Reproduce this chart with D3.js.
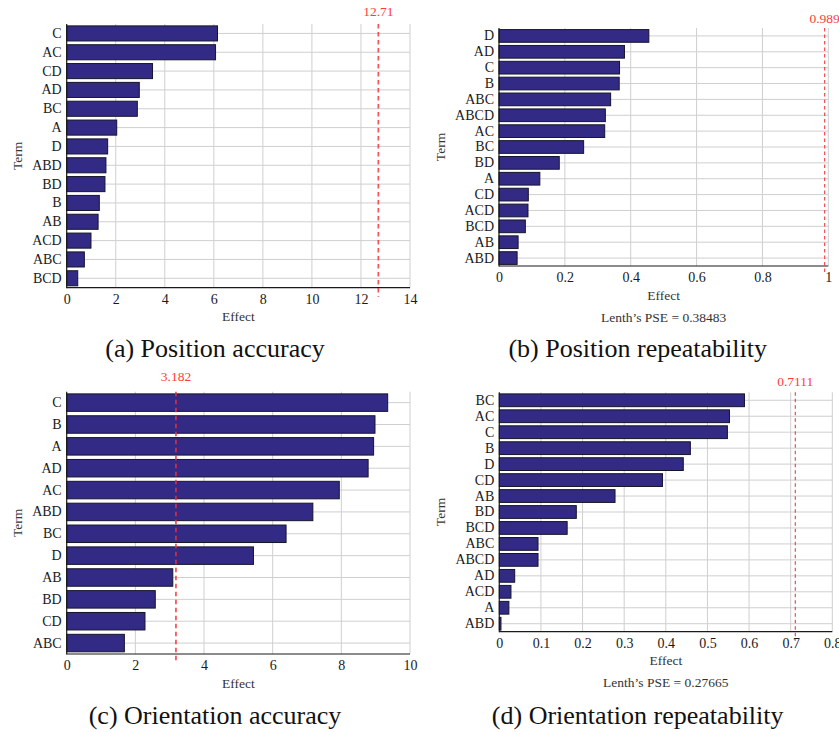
<!DOCTYPE html>
<html>
<head>
<meta charset="utf-8">
<script src="https://cdn.jsdelivr.net/npm/d3@7"></script>
<style>
  html, body { margin: 0; padding: 0; background: #fff; }
  svg { display: block; }
  svg text { font-family: "Liberation Serif", "Times New Roman", serif !important; }
</style>
</head>
<body>
<svg id="chart" width="839" height="732"></svg>
<script>
// ---------------- data ----------------
const termsA = ["C","AC","CD","AD","BC","A","D","ABD","BD","B","AB","ACD","ABC","BCD"];
const effectsA = [6.15, 6.07, 3.50, 2.96, 2.88, 2.04, 1.67, 1.60, 1.56, 1.33, 1.28, 0.99, 0.72, 0.45];
const thresholdA = 12.71;
const ticksA = [0, 2, 4, 6, 8, 10, 12, 14];
const tickLabelsA = ["0","2","4","6","8","10","12","14"];

const termsB = ["D","AD","C","B","ABC","ABCD","AC","BC","BD","A","CD","ACD","BCD","AB","ABD"];
const effectsB = [0.455, 0.381, 0.366, 0.365, 0.339, 0.323, 0.321, 0.257, 0.183, 0.124, 0.089, 0.088, 0.080, 0.058, 0.055];
const thresholdB = 0.989;
const ticksB = [0, 0.2, 0.4, 0.6, 0.8, 1];
const tickLabelsB = ["0","0.2","0.4","0.6","0.8","1"];

const termsC = ["C","B","A","AD","AC","ABD","BC","D","AB","BD","CD","ABC"];
const effectsC = [9.35, 8.98, 8.94, 8.78, 7.94, 7.17, 6.39, 5.44, 3.09, 2.58, 2.28, 1.68];
const thresholdC = 3.182;
const ticksC = [0, 2, 4, 6, 8, 10];
const tickLabelsC = ["0","2","4","6","8","10"];

const termsD = ["BC","AC","C","B","D","CD","AB","BD","BCD","ABC","ABCD","AD","ACD","A","ABD"];
const effectsD = [0.589, 0.553, 0.548, 0.459, 0.442, 0.392, 0.278, 0.185, 0.163, 0.093, 0.093, 0.037, 0.028, 0.023, 0.004];
const thresholdD = 0.7111;
const ticksD = [0, 0.1, 0.2, 0.3, 0.4, 0.5, 0.6, 0.7, 0.8];
const tickLabelsD = ["0","0.1","0.2","0.3","0.4","0.5","0.6","0.7","0.8"];

const captions = ["(a) Position accuracy", "(b) Position repeatability", "(c) Orientation accuracy", "(d) Orientation repeatability"];
const thresholdLabels = ["12.71", "0.989", "3.182", "0.7111"];
const pseLabels = [null, "Lenth\u2019s PSE = 0.38483", null, "Lenth\u2019s PSE = 0.27665"];
const xTitle = "Effect";
const yTitle = "Term";

// ---------------- layout ----------------
const panels = [
  { terms: termsA, values: effectsA, thr: thresholdA, ticks: ticksA, tickLabels: tickLabelsA,
    x0: 66.7, x1: 410, y0: 24, y1: 287.7, termX: 17, thrLabelDy: -12.3, capX: 215, capY: 348, thick: true },
  { terms: termsB, values: effectsB, thr: thresholdB, ticks: ticksB, tickLabels: tickLabelsB,
    x0: 499, x1: 828.3, y0: 28, y1: 266, termX: 440, thrLabelDy: -10, capX: 637.7, capY: 348, thick: false },
  { terms: termsC, values: effectsC, thr: thresholdC, ticks: ticksC, tickLabels: tickLabelsC,
    x0: 66.7, x1: 410, y0: 391.7, y1: 654, termX: 17, thrLabelDy: -15, capX: 215, capY: 715, thick: true },
  { terms: termsD, values: effectsD, thr: thresholdD, ticks: ticksD, tickLabels: tickLabelsD,
    x0: 499.3, x1: 832.3, y0: 392.3, y1: 631.7, termX: 440, thrLabelDy: -10.6, capX: 637.7, capY: 715, thick: false }
];

const svg = d3.select("#chart");
const barFill = "#332a86";
const gridColor = "#cfcfcf";
const serif = "'Liberation Serif', 'Times New Roman', serif";

panels.forEach((p, i) => {
  const dom = [p.ticks[0], p.ticks[p.ticks.length - 1]];
  const x = d3.scaleLinear().domain(dom).range([p.x0, p.x1]);
  const y = d3.scaleBand().domain(p.terms).range([p.y0, p.y1]).paddingInner(0.2).paddingOuter(0.1);
  const g = svg.append("g");

  // vertical grid
  g.selectAll("line.vgrid").data(p.ticks.slice(1)).enter().append("line")
    .attr("x1", d => x(d)).attr("x2", d => x(d))
    .attr("y1", p.y0).attr("y2", p.y1)
    .attr("stroke", gridColor).attr("stroke-width", 1);

  // horizontal grid at bar centres
  g.selectAll("line.hgrid").data(p.terms).enter().append("line")
    .attr("x1", p.x0).attr("x2", p.x1)
    .attr("y1", d => y(d) + y.bandwidth() / 2).attr("y2", d => y(d) + y.bandwidth() / 2)
    .attr("stroke", gridColor).attr("stroke-width", 1);

  // bars
  g.selectAll("rect.bar").data(p.terms).enter().append("rect")
    .attr("x", x(0))
    .attr("y", d => y(d))
    .attr("width", (d, k) => Math.max(0, x(p.values[k]) - x(0)))
    .attr("height", y.bandwidth())
    .attr("fill", barFill)
    .attr("stroke", "#15152a").attr("stroke-width", 1);

  // axes lines
  g.append("line").attr("x1", p.x0).attr("x2", p.x0).attr("y1", p.y0).attr("y2", p.y1 + 0.5)
    .attr("stroke", "#1a1a1a").attr("stroke-width", 1.2);
  g.append("line").attr("x1", p.x0).attr("x2", p.x1).attr("y1", p.y1).attr("y2", p.y1)
    .attr("stroke", "#1a1a1a").attr("stroke-width", 1.2);

  // x tick labels via d3 axis
  const xAxis = d3.axisBottom(x).tickValues(p.ticks).tickSize(0).tickPadding(6)
    .tickFormat((d, k) => p.tickLabels[k]);
  const ax = g.append("g").attr("transform", `translate(0,${p.y1})`).call(xAxis)
    .attr("font-family", serif).attr("font-size", 14);
  ax.select(".domain").remove();
  ax.selectAll("text").style("font-family", serif).style("font-size", "14px").attr("fill", "#1a1a1a");

  // y tick labels via d3 axis
  const yAxis = d3.axisLeft(y).tickSize(0).tickPadding(5);
  const ay = g.append("g").attr("transform", `translate(${p.x0},0)`).call(yAxis)
    .attr("font-family", serif).attr("font-size", 14);
  ay.select(".domain").remove();
  ay.selectAll("text").style("font-family", serif).style("font-size", "14px").attr("fill", "#1a1a1a");

  // threshold
  const tx = x(p.thr);
  g.append("line").attr("x1", tx).attr("x2", tx).attr("y1", p.y0).attr("y2", p.y1 + 9)
    .attr("stroke", "#f0303a").attr("stroke-opacity", p.thick ? 0.8 : 0.95)
    .attr("stroke-width", p.thick ? 1.8 : 1.1)
    .attr("stroke-dasharray", p.thick ? "4.5,3.5" : "3.5,3");
  g.append("text").attr("x", tx).attr("y", p.y0 + p.thrLabelDy)
    .attr("text-anchor", "middle").attr("dominant-baseline", "central")
    .style("font-family", serif).style("font-size", "13.5px").style("fill", "#ff3b3b").text(thresholdLabels[i]);

  // axis titles
  g.append("text").attr("x", (p.x0 + p.x1) / 2).attr("y", p.y1 + 29)
    .attr("text-anchor", "middle").attr("dominant-baseline", "central")
    .style("font-family", serif).style("font-size", "13.5px").style("fill", "#333").text(xTitle);
  g.append("text").attr("transform", `translate(${p.termX},${(p.y0 + p.y1) / 2}) rotate(-90)`)
    .attr("text-anchor", "middle").attr("dominant-baseline", "central")
    .style("font-family", serif).style("font-size", "13.5px").style("fill", "#333").text(yTitle);
  if (pseLabels[i]) {
    g.append("text").attr("x", (p.x0 + p.x1) / 2).attr("y", p.y1 + 51)
      .attr("text-anchor", "middle").attr("dominant-baseline", "central")
      .style("font-family", serif).style("font-size", "13.5px").style("fill", "#333").text(pseLabels[i]);
  }

  // caption
  g.append("text").attr("x", p.capX).attr("y", p.capY)
    .attr("text-anchor", "middle").attr("dominant-baseline", "central")
    .style("font-family", serif).style("font-size", "26px").style("fill", "#111").text(captions[i]);
});
</script>
</body>
</html>
